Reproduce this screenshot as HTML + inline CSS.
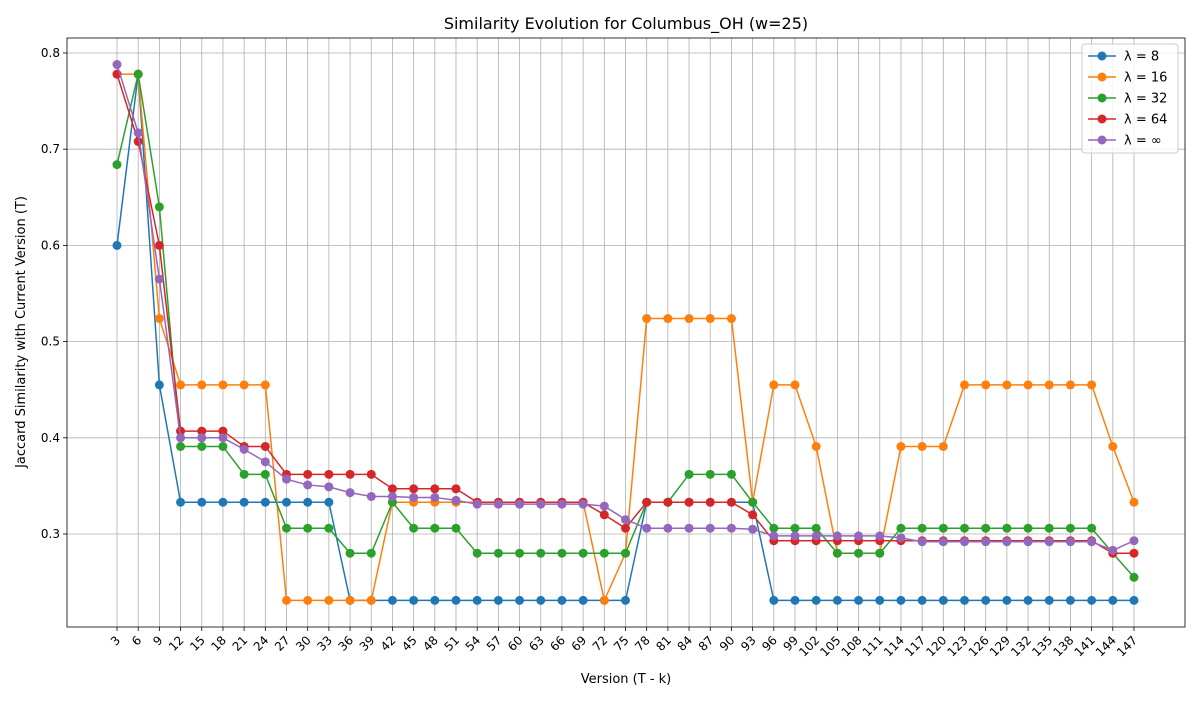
<!DOCTYPE html>
<html><head><meta charset="utf-8"><style>
body{margin:0;background:#fff;font-family:"Liberation Sans","DejaVu Sans",sans-serif;}
svg text{font-family:"DejaVu Sans","Liberation Sans",sans-serif;}
</style></head><body>
<svg id="chart" width="1200" height="700" xmlns="http://www.w3.org/2000/svg">
<rect width="1200" height="700" fill="#fff"/>
<text x="626" y="29" font-size="16" text-anchor="middle" fill="#000">Similarity Evolution for Columbus_OH (w=25)</text>
<text x="626" y="683" font-size="13" text-anchor="middle">Version (T - k)</text>
<text x="0" y="0" font-size="13" text-anchor="middle" transform="translate(25,332) rotate(-90)">Jaccard Similarity with Current Version (T)</text>
<g id="grid"></g><g id="axes"></g><g id="series"></g><g id="legend"></g>
</svg>
<script>
const versions=[];for(let v=3;v<=147;v+=3)versions.push(v);
const yTicks=[0.3,0.4,0.5,0.6,0.7,0.8];
const seriesNames=["λ = 8","λ = 16","λ = 32","λ = 64","λ = ∞"];
const seriesColors=["#1f77b4","#ff7f0e","#2ca02c","#d62728","#9467bd"];
const s8=[0.6,0.778,0.455,
0.333,0.333,0.333,0.333,0.333,0.333,0.333,0.333,
0.231,0.231,0.231,0.231,0.231,0.231,0.231,0.231,0.231,0.231,0.231,0.231,0.231,0.231,
0.333,0.333,0.333,0.333,0.333,0.333,
0.231,0.231,0.231,0.231,0.231,0.231,0.231,0.231,0.231,0.231,0.231,0.231,0.231,0.231,0.231,0.231,0.231,0.231];
const s16=[0.778,0.778,0.524,
0.455,0.455,0.455,0.455,0.455,
0.231,0.231,0.231,0.231,0.231,
0.333,0.333,0.333,0.333,0.333,0.333,0.333,0.333,0.333,0.333,
0.231,0.28,
0.524,0.524,0.524,0.524,0.524,
0.333,0.455,0.455,0.391,
0.28,0.28,0.28,
0.391,0.391,0.391,
0.455,0.455,0.455,0.455,0.455,0.455,0.455,
0.391,0.333];
const s32=[0.684,0.778,0.64,
0.391,0.391,0.391,
0.362,0.362,
0.306,0.306,0.306,
0.28,0.28,
0.333,
0.306,0.306,0.306,
0.28,0.28,0.28,0.28,0.28,0.28,0.28,0.28,
0.333,0.333,
0.362,0.362,0.362,
0.333,
0.306,0.306,0.306,
0.28,0.28,0.28,
0.306,0.306,0.306,0.306,0.306,0.306,0.306,0.306,0.306,0.306,
0.28,0.255];
const s64=[0.778,0.708,0.6,
0.407,0.407,0.407,
0.391,0.391,
0.362,0.362,0.362,0.362,0.362,
0.347,0.347,0.347,0.347,
0.333,0.333,0.333,0.333,0.333,0.333,
0.32,0.306,
0.333,0.333,0.333,0.333,0.333,
0.32,
0.293,0.293,0.293,0.293,0.293,0.293,0.293,0.293,0.293,0.293,0.293,0.293,0.293,0.293,0.293,0.293,
0.28,0.28];
const sInf=[0.788,0.717,0.565,
0.4,0.4,0.4,
0.388,0.375,0.357,0.351,0.349,0.343,0.339,0.339,0.338,0.338,0.335,
0.331,0.331,0.331,0.331,0.331,0.331,
0.329,0.315,
0.306,0.306,0.306,0.306,0.306,
0.305,
0.298,0.298,0.298,0.298,0.298,0.298,
0.296,
0.292,0.292,0.292,0.292,0.292,0.292,0.292,0.292,0.292,
0.283,0.293];
const allSeries=[s8,s16,s32,s64,sInf];
const NS="http://www.w3.org/2000/svg";
const L=67,R=1185,T=38,B=627;
const x0=117,x1=1134;
function xs(i){return x0+(x1-x0)*i/(versions.length-1);}
function ys(v){return 534-(v-0.3)*962;}
function mk(tag,attrs,parent){const e=document.createElementNS(NS,tag);for(const k in attrs)e.setAttribute(k,attrs[k]);parent.appendChild(e);return e;}
const grid=document.getElementById('grid'),axes=document.getElementById('axes'),ser=document.getElementById('series'),leg=document.getElementById('legend');
versions.forEach((v,i)=>{
  const g=mk('line',{x1:xs(i),x2:xs(i),y1:T,y2:B,stroke:'#b0b0b0','stroke-width':0.8},grid);
  
  
  mk('line',{x1:xs(i),x2:xs(i),y1:B,y2:B+4,stroke:'#000','stroke-width':0.8},axes);
  const t=mk('text',{x:0,y:0,'font-size':12,'text-anchor':'end',transform:`translate(${xs(i)+4},${B+14}) rotate(-45)`},axes);
  t.textContent=v;
  
  
});
yTicks.forEach(v=>{
  const y=ys(v);
  const g=mk('line',{x1:L,x2:R,y1:y,y2:y,stroke:'#b0b0b0','stroke-width':0.8},grid);
  
  
  mk('line',{x1:L-4,x2:L,y1:y,y2:y,stroke:'#000','stroke-width':0.8},axes);
  const t=mk('text',{x:L-7,y:y+4,'font-size':12,'text-anchor':'end'},axes);
  t.textContent=v.toFixed(1);
  
  
});
const fr=mk('rect',{x:L,y:T,width:R-L,height:B-T,fill:'none',stroke:'#000','stroke-width':0.8},axes);


allSeries.forEach((s,k)=>{
  const g=mk('g',{},ser);
  
  
  const pts=s.map((v,i)=>xs(i)+','+ys(v)).join(' ');
  const pl=mk('polyline',{points:pts,fill:'none',stroke:seriesColors[k],'stroke-width':1.5},g);
  
  
  s.forEach((v,i)=>{
    const c=mk('circle',{cx:xs(i),cy:ys(v),r:4.5,fill:seriesColors[k]},g);
    
    
  });
});
const lb=mk('rect',{x:1082,y:44,width:96,height:109,rx:3,fill:'#fff','fill-opacity':0.8,stroke:'#ccc'},leg);


seriesNames.forEach((n,k)=>{
  const y=56+k*21;
  const g=mk('g',{},leg);
  
  
  mk('line',{x1:1088,x2:1116,y1:y,y2:y,stroke:seriesColors[k],'stroke-width':1.5},g);
  mk('circle',{cx:1102,cy:y,r:4.5,fill:seriesColors[k]},g);
  const t=mk('text',{x:1124,y:y+4.5,'font-size':13},g);
  t.textContent=n;
});
</script>
</body></html>
